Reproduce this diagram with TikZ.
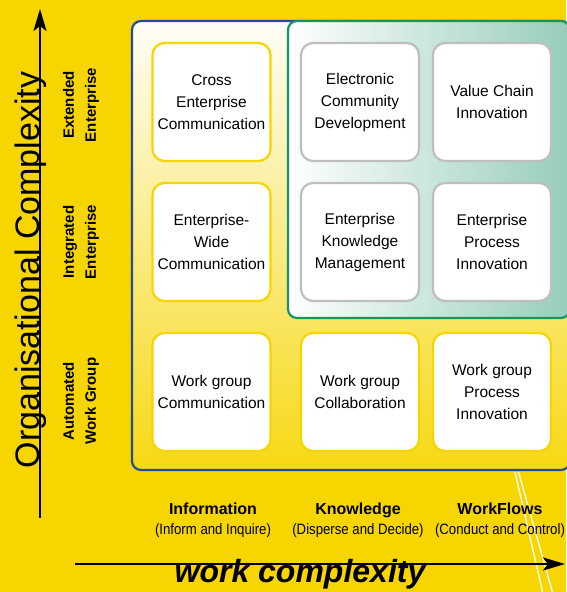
\documentclass[tikz,border=0pt]{standalone}
\usepackage{fontspec}
\setmainfont{Liberation Sans}
\newfontfamily\narrowfont[FakeStretch=0.88]{Liberation Sans}
\usetikzlibrary{arrows.meta}

\definecolor{bgyellow}{RGB}{246,213,0}
\definecolor{frameblue}{RGB}{40,75,150}
\definecolor{framegreen}{RGB}{20,150,100}
\definecolor{tealfill}{RGB}{150,205,185}
\definecolor{cellgray}{RGB}{190,190,190}

\tikzset{
  cell/.style={draw=#1, line width=2.2pt, fill=white, rounded corners=12pt,
    minimum width=118pt, minimum height=118pt, inner sep=0pt, align=center,
    font=\fontsize{15.5}{22}\selectfont},
  rowlabel/.style={rotate=90, align=center, font=\bfseries\fontsize{15}{22}\selectfont},
  colhead/.style={anchor=base, font=\bfseries\fontsize{16}{18}\selectfont},
  colsub/.style={anchor=base, font=\narrowfont\fontsize{15}{18}\selectfont},
  axis/.style={line width=#1, -{Stealth[length=22pt,width=13pt,inset=5pt]}},
}

\begin{document}
\begin{tikzpicture}[x=1pt,y=-1pt]
  \useasboundingbox (0,0) rectangle (566,592);
  \fill[bgyellow] (0,0) rectangle (566,592);

  % white streaks in the background
  \draw[white, line width=1.3pt] (515,472) -- (543,594);
  \draw[white, line width=1.3pt] (518.5,472) -- (553,594);

  % outer frame and the green region
  \shadedraw[draw=frameblue, line width=2.2pt, rounded corners=9pt,
    top color=bgyellow!3!white, middle color=bgyellow!35!white, bottom color=bgyellow!92!white]
    (132,21) rectangle (570,470);
  \shadedraw[draw=framegreen, line width=2.2pt, rounded corners=9pt,
    left color=white, middle color=tealfill!30!white, right color=tealfill]
    (288,21) rectangle (570,318);

  % the nine cells
  \foreach \name/\x/\y/\col/\txt in {
      crossent/211.5/102/bgyellow/{Cross\\Enterprise\\Communication},
      ecommdev/360/102/cellgray/{Electronic\\Community\\Development},
      vchain/492/102/cellgray/{Value Chain\\Innovation},
      entwide/211.5/242/bgyellow/{Enterprise-\\Wide\\Communication},
      entknow/360/242/cellgray/{Enterprise\\Knowledge\\Management},
      entproc/492/242/cellgray/{Enterprise\\Process\\Innovation},
      wgcomm/211.5/392/bgyellow/{Work group\\Communication},
      wgcollab/360/392/bgyellow/{Work group\\Collaboration},
      wgproc/492/392/bgyellow/{Work group\\Process\\Innovation}}
    \node[cell=\col] (\name) at (\x,\y) {\txt};

  % axes
  \coordinate (ybot) at (40,518);
  \coordinate (ytop) at (40,9);
  \coordinate (xleft) at (75,564);
  \coordinate (xright) at (565,564);
  \draw[axis=2.3pt] (ybot) -- (ytop);
  \draw[axis=2.6pt] (xleft) -- (xright);

  % row labels
  \node[rotate=90, anchor=base, font=\fontsize{34}{40}\selectfont] (orgcx) at (39.5,270) {Organisational Complexity};
  \node[rowlabel] (extent) at (81,105) {Extended\\Enterprise};
  \node[rowlabel] (integent) at (81,242) {Integrated\\Enterprise};
  \node[rowlabel] (autowg) at (81,401) {Automated\\Work Group};

  % column labels
  \node[colhead] (info) at (213,514) {Information};
  \node[colsub] (infosub) at (213,534) {(Inform and Inquire)};
  \node[colhead] (know) at (358,514) {Knowledge};
  \node[colsub] (knowsub) at (358,534) {(Disperse and Decide)};
  \node[colhead] (wflow) at (500,514) {WorkFlows};
  \node[colsub] (wflowsub) at (500,534) {(Conduct and Control)};
  \node[anchor=base, font=\bfseries\itshape\fontsize{32}{36}\selectfont] (workcx) at (300,582) {work complexity};
\end{tikzpicture}
\end{document}
